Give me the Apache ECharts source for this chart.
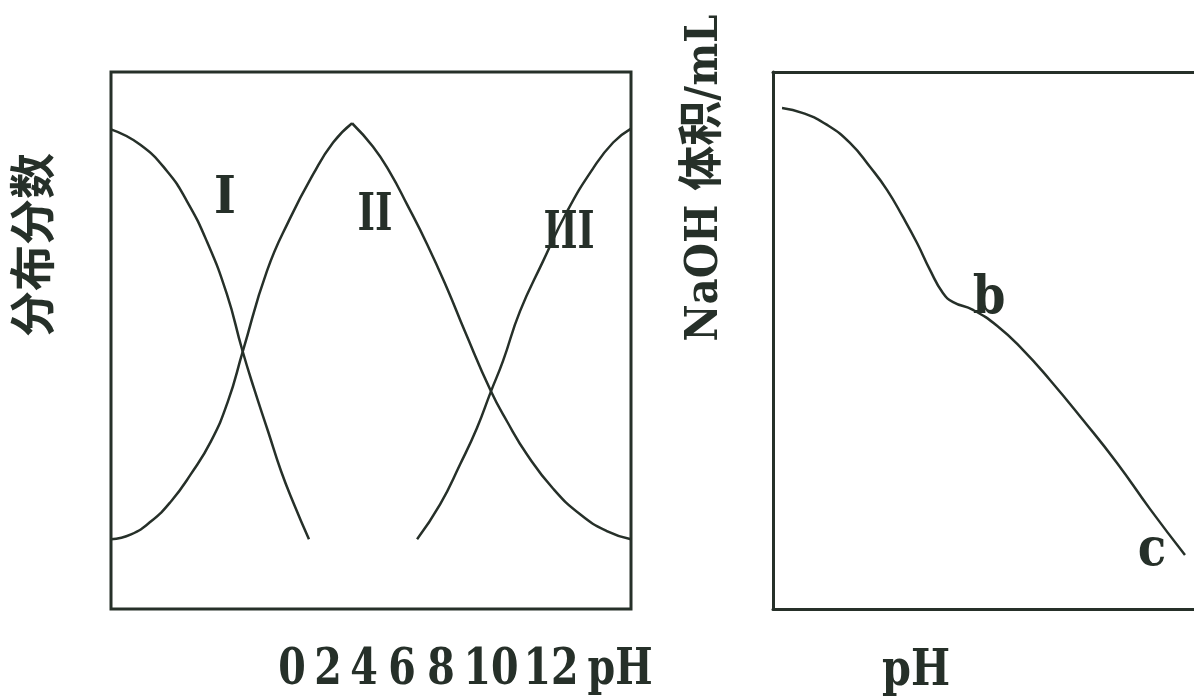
<!DOCTYPE html>
<html>
<head>
<meta charset="utf-8">
<script src="https://cdn.jsdelivr.net/npm/echarts@6/dist/echarts.min.js"></script>
<style>
  html, body { margin: 0; padding: 0; background: #fff; }
  #chart { width: 1194px; height: 700px; }
</style>
</head>
<body>
<div id="chart"></div>
<script>
// 左图：分布分数 vs pH（横轴按 0~14 折算，纵轴按 0~1 折算）
const curveI = [
  [0, 1.0], [0.78, 0.963], [1.51, 0.898], [2.05, 0.824], [2.58, 0.727],
  [3.12, 0.598], [3.53, 0.463], [3.85, 0.368], [4.23, 0.263], [4.58, 0.166],
  [4.93, 0.085], [5.33, 0]
];
// II 峰顶是尖的，拆成左右两段
const curveIIleft = [
  [0, 0], [0.54, 0.012], [1.08, 0.044], [1.62, 0.093], [2.15, 0.159],
  [2.69, 0.239], [3.15, 0.337], [3.55, 0.459], [4.20, 0.655], [4.82, 0.783],
  [5.44, 0.890], [5.98, 0.968], [6.49, 1.015]
];
const curveIIright = [
  [6.49, 1.015], [7.05, 0.958], [7.51, 0.895], [7.97, 0.817], [8.51, 0.720],
  [9.05, 0.612], [9.53, 0.507], [10.23, 0.361], [10.66, 0.288], [11.20, 0.207],
  [11.90, 0.124], [12.63, 0.061], [13.35, 0.020], [14, 0]
];
const curveIII = [
  [8.24, 0], [8.86, 0.085], [9.40, 0.183], [9.85, 0.271], [10.23, 0.361],
  [10.55, 0.434], [11.01, 0.556], [11.63, 0.678], [12.28, 0.80], [12.98, 0.905],
  [13.52, 0.968], [14, 1.002]
];
// 右图：NaOH 体积 vs pH
const naohCurve = [
  [0.30, 18.66], [1.00, 18.47], [1.80, 18.03], [2.56, 17.36], [3.23, 16.46],
  [3.79, 15.61], [4.32, 14.60], [4.79, 13.63], [5.22, 12.63], [5.65, 11.77],
  [5.99, 11.43], [6.65, 11.14], [7.45, 10.55], [8.31, 9.65], [9.21, 8.53],
  [10.31, 7.04], [11.44, 5.44], [12.54, 3.72], [13.70, 2.01]
];
const phTicks = ['0', '2', '4', '6', '8', '10', '12', 'pH'];
// 刻度文字在图下方的水平位置（与方框不对齐，照原图摆放）
const phTickX = [292, 328, 364, 402, 441, 491, 551, 620];

const INK = '#263029';
const SERIF = "'DejaVu Serif Condensed', 'DejaVu Serif', 'Noto Sans CJK SC', serif";

const chart = echarts.init(document.getElementById('chart'));

function lineSeries(data, gi, xi) {
  return {
    type: 'line',
    xAxisIndex: xi,
    yAxisIndex: gi,
    data,
    smooth: 0.5,
    symbol: 'none',
    lineStyle: { color: INK, width: 2.5 },
    silent: true,
    animation: false,
  };
}

function label(text, x, y, size, sx) {
  return {
    type: 'text',
    x, y,
    scaleX: sx || 1,
    style: {
      text,
      fill: INK,
      font: `bold ${size}px ${SERIF}`,
      align: 'center',
      verticalAlign: 'middle',
    },
  };
}

const hidden = { show: false };
const frameLine = { show: true, onZero: false, lineStyle: { color: INK, width: 3 } };

chart.setOption({
  animation: false,
  grid: [
    { left: 111, top: 72, width: 520, height: 537, show: true, borderColor: INK, borderWidth: 3, backgroundColor: 'transparent' },
    // 右图只有左、上、下三条边，右边出画面
    { left: 773, top: 72, width: 421, height: 537 },
  ],
  xAxis: [
    { type: 'value', gridIndex: 0, min: 0, max: 14, axisLine: hidden, axisTick: hidden, axisLabel: hidden, splitLine: hidden },
    { type: 'value', gridIndex: 1, min: 0, max: 14, position: 'bottom', axisLine: frameLine, axisTick: hidden, axisLabel: hidden, splitLine: hidden },
    { type: 'value', gridIndex: 1, min: 0, max: 14, position: 'top', axisLine: frameLine, axisTick: hidden, axisLabel: hidden, splitLine: hidden },
  ],
  yAxis: [
    { type: 'value', gridIndex: 0, min: -0.17, max: 1.14, axisLine: hidden, axisTick: hidden, axisLabel: hidden, splitLine: hidden },
    { type: 'value', gridIndex: 1, min: 0, max: 20, position: 'left', axisLine: frameLine, axisTick: hidden, axisLabel: hidden, splitLine: hidden },
  ],
  series: [
    lineSeries(curveI, 0, 0),
    lineSeries(curveIIleft, 0, 0),
    lineSeries(curveIIright, 0, 0),
    lineSeries(curveIII, 0, 0),
    lineSeries(naohCurve, 1, 1),
  ],
  graphic: [
    Object.assign(label('分布分数', 37, 245, 46), { rotation: Math.PI / 2 }),
    Object.assign(label('NaOH 体积/mL', 705, 178, 45), { rotation: Math.PI / 2 }),
    ...phTicks.map((t, i) => label(t, phTickX[i], 671, 50, 0.88)),
    label('pH', 916, 672, 50, 0.92),
    label('I', 225, 199, 52, 1),
    label('II', 375, 216, 52, 0.8),
    label('III', 569, 234, 52, 0.78),
    label('b', 989, 299, 52, 1),
    label('c', 1152, 551, 52, 1),
  ],
});
</script>
</body>
</html>
